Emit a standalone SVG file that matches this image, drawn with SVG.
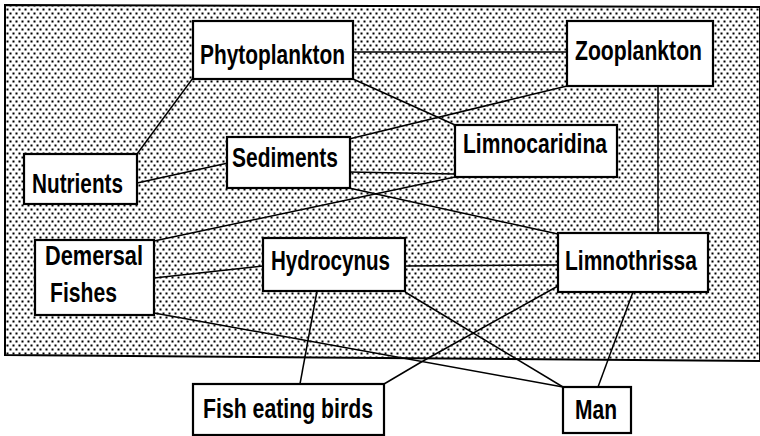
<svg xmlns="http://www.w3.org/2000/svg" width="760" height="436" viewBox="0 0 760 436">
<style>
.box{fill:#fff;stroke:#000;stroke-width:2.2}
.lbl{font-family:"Liberation Sans",Arial,sans-serif;font-weight:bold;font-size:27px;fill:#000}
.ln{stroke:#000;stroke-width:1.5;fill:none}
</style>
<defs>
<pattern id="dots" x="0" y="0" width="6" height="8" patternUnits="userSpaceOnUse">
<rect x="0.5" y="0.5" width="2" height="2" fill="#000"/>
<rect x="3.5" y="4.5" width="2" height="2" fill="#000"/>
</pattern>
</defs>
<rect width="760" height="436" fill="#fff"/>
<g id="background">
<polygon points="5,5 760,7 760,361 5,355" fill="url(#dots)" stroke="#000" stroke-width="2"/>
</g>
<g id="connectors">
<line class="ln" x1="353" y1="52" x2="567" y2="52"/>
<line class="ln" x1="353" y1="79" x2="455" y2="125"/>
<line class="ln" x1="567" y1="86" x2="349" y2="139"/>
<line class="ln" x1="193" y1="78" x2="137" y2="154"/>
<line class="ln" x1="137" y1="183" x2="228" y2="163"/>
<line class="ln" x1="349" y1="172" x2="455" y2="174"/>
<line class="ln" x1="349" y1="188" x2="558" y2="234"/>
<line class="ln" x1="154" y1="241" x2="455" y2="177"/>
<line class="ln" x1="154" y1="278" x2="263" y2="266"/>
<line class="ln" x1="154" y1="313" x2="563" y2="387"/>
<line class="ln" x1="317" y1="291" x2="300" y2="384"/>
<line class="ln" x1="405" y1="266" x2="558" y2="265"/>
<line class="ln" x1="405" y1="292" x2="563" y2="387"/>
<line class="ln" x1="558" y1="286" x2="423" y2="361"/>
<line class="ln" x1="423" y1="361" x2="384" y2="384"/>
<line class="ln" x1="633" y1="292" x2="598" y2="387"/>
<line class="ln" x1="658" y1="86" x2="658" y2="233"/>
</g>
<g id="phytoplankton">
<rect class="box" x="193" y="21" width="160" height="58"/>
<text class="lbl" x="200" y="64" textLength="145" lengthAdjust="spacingAndGlyphs">Phytoplankton</text>
</g>
<g id="zooplankton">
<rect class="box" x="567" y="21" width="146" height="65"/>
<text class="lbl" x="575" y="60" textLength="127" lengthAdjust="spacingAndGlyphs">Zooplankton</text>
</g>
<g id="sediments">
<rect class="box" x="227" y="137" width="123" height="51"/>
<text class="lbl" x="232" y="167" textLength="106" lengthAdjust="spacingAndGlyphs">Sediments</text>
</g>
<g id="nutrients">
<rect class="box" x="24" y="154" width="113" height="50"/>
<text class="lbl" x="32" y="193" textLength="91" lengthAdjust="spacingAndGlyphs">Nutrients</text>
</g>
<g id="limnocaridina">
<rect class="box" x="455" y="125" width="162" height="52"/>
<text class="lbl" x="463" y="153" textLength="144" lengthAdjust="spacingAndGlyphs">Limnocaridina</text>
</g>
<g id="demersal">
<rect class="box" x="35" y="240" width="119" height="75"/>
<text class="lbl" x="45" y="265" textLength="98" lengthAdjust="spacingAndGlyphs">Demersal</text>
<text class="lbl" x="50" y="302" textLength="67" lengthAdjust="spacingAndGlyphs">Fishes</text>
</g>
<g id="hydrocynus">
<rect class="box" x="263" y="238" width="142" height="53"/>
<text class="lbl" x="271" y="270" textLength="119" lengthAdjust="spacingAndGlyphs">Hydrocynus</text>
</g>
<g id="limnothrissa">
<rect class="box" x="558" y="233" width="150" height="59"/>
<text class="lbl" x="565" y="270" textLength="132" lengthAdjust="spacingAndGlyphs">Limnothrissa</text>
</g>
<g id="fishbirds">
<rect class="box" x="193" y="384" width="191" height="51"/>
<text class="lbl" x="203" y="418" textLength="170" lengthAdjust="spacingAndGlyphs">Fish eating birds</text>
</g>
<g id="man">
<rect class="box" x="563" y="387" width="68" height="46"/>
<text class="lbl" x="575" y="419" textLength="42" lengthAdjust="spacingAndGlyphs">Man</text>
</g>
</svg>
